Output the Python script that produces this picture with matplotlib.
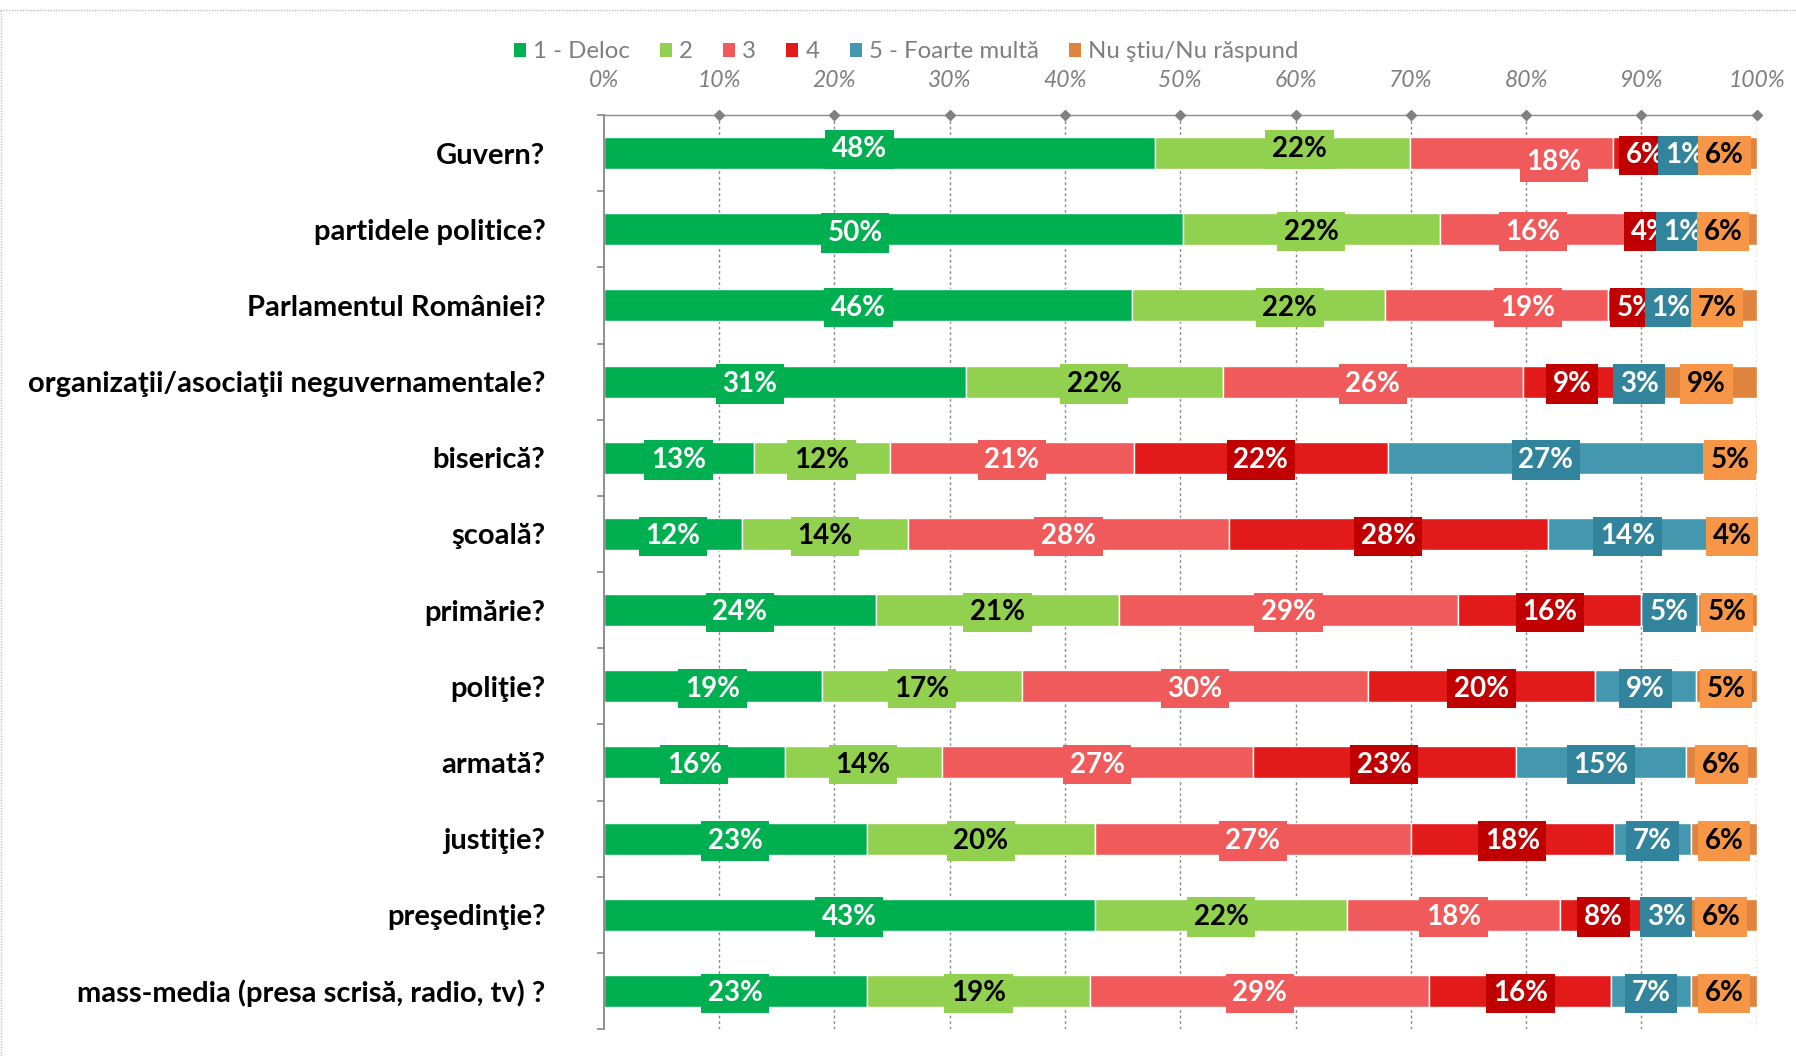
import matplotlib
matplotlib.use('Agg')
import matplotlib.pyplot as plt
from matplotlib.patches import Patch
from matplotlib.lines import Line2D
import numpy as np

plt.rcParams['font.family'] = ['Lato', 'DejaVu Sans']

# ---------------- data ----------------
categories = [
    'Guvern?',
    'partidele politice?',
    'Parlamentul României?',
    'organizaţii/asociaţii neguvernamentale?',
    'biserică?',
    'şcoală?',
    'primărie?',
    'poliţie?',
    'armată?',
    'justiţie?',
    'preşedinţie?',
    'mass-media (presa scrisă, radio, tv) ?',
]
series_names = ['1 - Deloc', '2', '3', '4', '5 - Foarte multă', 'Nu ştiu/Nu răspund']

deloc  = [47.8, 50.2, 45.8, 31.4, 13.0, 12.0, 23.6, 18.9, 15.7, 22.8, 42.6, 22.8]
nivel2 = [22.1, 22.3, 22.0, 22.3, 11.8, 14.4, 21.1, 17.4, 13.6, 19.8, 21.9, 19.4]
nivel3 = [17.6, 16.2, 19.3, 26.0, 21.2, 27.8, 29.4, 30.0, 27.0, 27.4, 18.4, 29.4]
nivel4 = [5.6, 4.2, 4.9, 8.6, 22.0, 27.7, 15.9, 19.7, 22.8, 17.6, 7.6, 15.8]
foarte = [1.3, 1.3, 1.1, 3.0, 27.4, 13.8, 4.9, 8.7, 14.8, 6.7, 3.3, 6.9]
nsnr   = [5.6, 5.8, 6.9, 8.7, 4.6, 4.3, 5.1, 5.3, 6.1, 5.7, 6.2, 5.7]

series_values = [deloc, nivel2, nivel3, nivel4, foarte, nsnr]
tick_values = list(range(0, 101, 10))
tick_labels = [f'{t}%' for t in tick_values]

# ---------------- styles ----------------
bar_colors = ['#00B050', '#92D050', '#F05A5A', '#E31A1A', '#4398B0', '#DE843F']
box_colors = ['#00B050', '#92D050', '#F05A5A', '#C00000', '#31849B', '#F79646']
text_colors = ['white', 'black', 'white', 'white', 'white', 'black']
# manual label nudges (row, series) -> (dx in %, dy in category units), as in the original
label_nudge = {
    (0, 0): (-1.7, -0.08), (0, 1): (1.5, -0.08), (0, 2): (3.7, 0.09),
    (1, 0): (-3.3, 0.02),
    (2, 0): (-0.8, 0.0), (2, 1): (2.7, 0.0), (2, 2): (2.7, 0.0),
    (3, 0): (-3.0, 0.0),
}
label_dy = 0.03

W, H = 1796, 1056
fig = plt.figure(figsize=(W / 100, H / 100), dpi=100)
ax_left, ax_right, ax_top, ax_bottom = 603.7, 1756.7, 115, 1029
ax = fig.add_axes([ax_left / W, 1 - ax_bottom / H, (ax_right - ax_left) / W, (ax_bottom - ax_top) / H])

y = np.arange(len(categories))
left = np.zeros(len(categories))
for i, vals in enumerate(series_values):
    vals = np.array(vals)
    ax.barh(y, vals, left=left, height=0.42, color=bar_colors[i],
            edgecolor='white', linewidth=1.0, zorder=2)
    for j in range(len(categories)):
        v = vals[j]
        dx, dy = label_nudge.get((j, i), (0.0, 0.0))
        ax.text(left[j] + v / 2 + dx, y[j] + dy + label_dy, f'{v:.0f}%',
                ha='center', va='center',
                fontsize=20, fontweight='bold', color=text_colors[i],
                bbox=dict(boxstyle='square,pad=0.24', fc=box_colors[i], ec='none'),
                zorder=10 + i, clip_on=False)
    left += vals

ax.set_xlim(0, 100)
ax.set_ylim(len(categories) - 0.5, -0.5)

# x axis on top
ax.xaxis.tick_top()
ax.set_xticks(tick_values)
ax.set_xticklabels(tick_labels, fontstyle='italic', color='#7F7F7F', fontsize=16.5)
ax.tick_params(axis='x', length=0, pad=17)

# dashed vertical gridlines
for t in tick_values[1:]:
    ax.axvline(t, color='#8A8A8A', lw=1.0, dashes=(2, 2), zorder=1)

# diamonds on top axis
ax.plot(tick_values[1:], [-0.5] * len(tick_values[1:]), 'D', ms=5.5,
        color='#808080', clip_on=False, zorder=5)

for s in ['right', 'bottom']:
    ax.spines[s].set_visible(False)
ax.spines['top'].set_linestyle((0, (1, 1)))
ax.spines['top'].set_color('#8C8C8C')
ax.spines['top'].set_linewidth(1.0)
ax.spines['left'].set_color('#868686')
ax.spines['left'].set_linewidth(1.3)

# y axis labels
ax.set_yticks(y)
ax.set_yticklabels(categories, fontsize=21, fontweight='bold', color='black')
ax.tick_params(axis='y', which='major', length=0, pad=42)
ax.set_yticks(np.arange(-0.5, len(categories), 1), minor=True)
ax.tick_params(axis='y', which='minor', length=5, width=1.2, color='#868686', direction='out')

# legend
handles = [Patch(facecolor=c, edgecolor='none') for c in bar_colors]
fig.legend(handles, series_names, loc='center', bbox_to_anchor=(0.5045, 1 - 52 / H),
           ncol=6, frameon=False, fontsize=17.3, handlelength=0.5, handleheight=0.55,
           handletextpad=0.3, columnspacing=1.25, labelcolor='#7F7F7F')

# dotted outer border (top & left)
fig.add_artist(Line2D([0, 1], [1 - 10 / H] * 2, transform=fig.transFigure,
                      color='#BFBFBF', lw=1.0, linestyle=(0, (1, 1))))
fig.add_artist(Line2D([1 / W] * 2, [0, 1 - 10 / H], transform=fig.transFigure,
                      color='#BFBFBF', lw=1.0, linestyle=(0, (1, 1))))

fig.savefig('out.png', dpi=100)
